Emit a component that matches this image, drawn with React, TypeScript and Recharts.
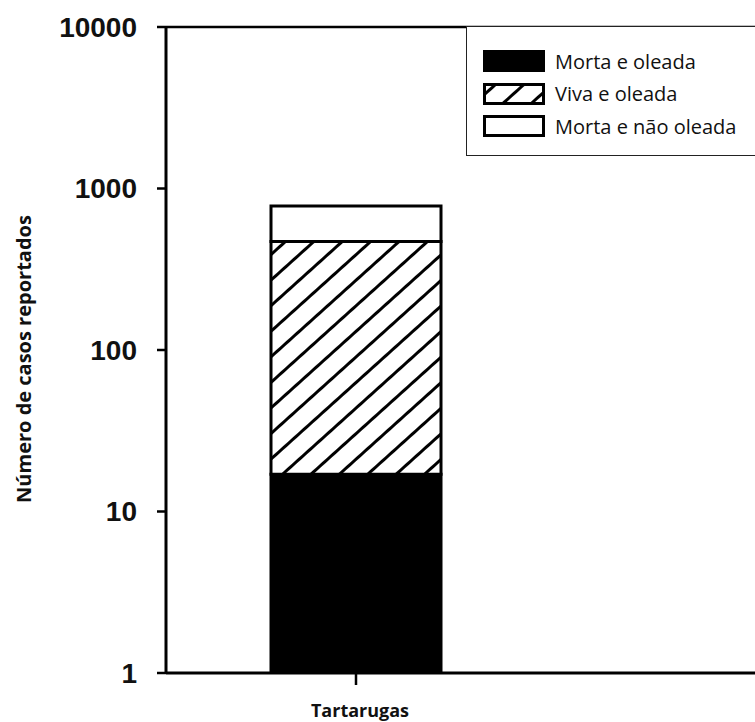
import React from 'react';
import { BarChart, Bar, XAxis, YAxis, Legend, ReferenceLine } from 'recharts';

// values
const categories = ['Tartarugas'];
const mortaOleada = [17];
const vivaOleada = [453];
const mortaNaoOleada = [310];

const seriesLabels = ['Morta e oleada', 'Viva e oleada', 'Morta e não oleada'];
const yTicks = [1, 10, 100, 1000, 10000];

const data = categories.map((name, i) => ({
  name,
  mortaOleada: mortaOleada[i],
  vivaOleada: vivaOleada[i],
  mortaNaoOleada: mortaNaoOleada[i],
}));

const SERIES = [
  { key: 'mortaOleada', label: seriesLabels[0], fill: '#000' },
  { key: 'vivaOleada', label: seriesLabels[1], fill: 'url(#hatch)' },
  { key: 'mortaNaoOleada', label: seriesLabels[2], fill: '#fff' },
];

function HatchDefs() {
  return (
    <svg width={0} height={0} style={{ position: 'absolute' }}>
      <defs>
        <pattern
          id="hatch"
          patternUnits="userSpaceOnUse"
          width={10}
          height={19}
          patternTransform="rotate(-42)"
        >
          <rect width={10} height={19} fill="#fff" />
          <line x1={0} y1={9.5} x2={10} y2={9.5} stroke="#000" strokeWidth={3} />
        </pattern>
      </defs>
    </svg>
  );
}

function LegendBox() {
  return (
    <div
      style={{
        width: 300,
        height: 130,
        boxSizing: 'border-box',
        border: '1.5px solid #222',
        background: '#fff',
        paddingTop: 18,
        paddingLeft: 16,
        fontFamily: '"Open Sans", sans-serif',
        fontSize: 20,
        color: '#111',
      }}
    >
      {SERIES.map((s) => (
        <div key={s.key} style={{ display: 'flex', alignItems: 'center', height: 32.5 }}>
          <svg width={62} height={22} style={{ marginRight: 10 }}>
            <rect x={1.5} y={1.5} width={59} height={19} fill={s.fill} stroke="#000" strokeWidth={3} />
          </svg>
          <span>{s.label}</span>
        </div>
      ))}
    </div>
  );
}

function YLabel() {
  return (
    <text
      x={23}
      y={359}
      transform="rotate(-90 23 359)"
      textAnchor="middle"
      dominantBaseline="central"
      style={{ fontFamily: '"Open Sans", sans-serif', fontSize: 20, fontWeight: 700, fill: '#111' }}
    >
      Número de casos reportados
    </text>
  );
}

export default function App() {
  return (
    <div style={{ position: 'absolute', left: 0, top: 0, width: 755, height: 722, overflow: 'hidden', background: '#fff' }}>
      <HatchDefs />
      <BarChart width={755} height={722} data={data} margin={{ top: 27, right: 0, bottom: 0, left: 0 }}>
        <XAxis
          dataKey="name"
          height={49}
          padding={{ left: 0, right: 209 }}
          tickSize={12}
          tickMargin={19}
          axisLine={{ stroke: '#000', strokeWidth: 3 }}
          tickLine={{ stroke: '#000', strokeWidth: 2.5 }}
          tick={{ fill: '#111', fontSize: 18, fontWeight: 700, fontFamily: '"Open Sans", sans-serif', dx: 4 }}
        />
        <YAxis
          width={166}
          scale="log"
          domain={[1, 10000]}
          ticks={yTicks}
          allowDataOverflow
          tickSize={9}
          tickMargin={20}
          axisLine={{ stroke: '#000', strokeWidth: 3 }}
          tickLine={{ stroke: '#000', strokeWidth: 2.5 }}
          tick={{ fill: '#111', fontSize: 28, fontWeight: 700, fontFamily: '"Liberation Sans", Arial, sans-serif' }}
          label={{ content: () => <YLabel /> }}
        />
        <ReferenceLine y={10000} stroke="#000" strokeWidth={2.5} />
        <Legend
          layout="vertical"
          align="center"
          verticalAlign="middle"
          wrapperStyle={{ left: 466, top: 26 }}
          content={() => <LegendBox />}
        />
        {SERIES.map((s) => (
          <Bar
            key={s.key}
            dataKey={s.key}
            stackId="a"
            barSize={170}
            fill={s.fill}
            stroke="#000"
            strokeWidth={3}
            isAnimationActive={false}
          />
        ))}
      </BarChart>
    </div>
  );
}
